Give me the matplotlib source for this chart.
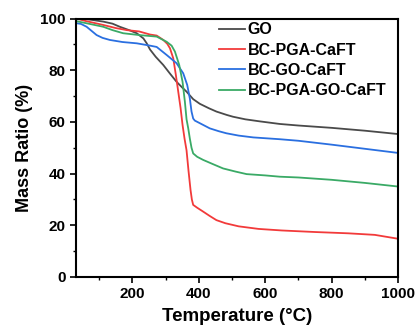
import numpy as np
import matplotlib.pyplot as plt
from matplotlib.ticker import MultipleLocator

plt.rcParams['font.family'] = ['Liberation Sans', 'DejaVu Sans']
plt.rcParams['font.weight'] = 'bold'

# temperature (C) and mass ratio (%)
go_t = [30, 60, 112, 140, 162, 190, 213, 233, 243, 253, 270, 293, 313, 333, 350, 363,
        383, 403, 430, 453, 484, 503, 540, 584, 644, 700, 800, 900, 1000]
go_m = [100, 99.8, 98.8, 98, 96.8, 95.5, 94.3, 92.3, 90.4, 88, 85.2, 82, 78.7, 75.5, 73.3, 71.7,
        68.8, 67, 65.3, 64, 62.7, 62, 61, 60.2, 59.2, 58.6, 57.7, 56.6, 55.3]

pga_t = [30, 60, 112, 150, 183, 220, 253, 273, 293, 305, 313, 323, 331, 338, 345, 351,
         357, 363, 369, 375, 379, 383, 395, 413, 433, 453, 480, 520, 580, 650, 750,
         850, 930, 1000]
pga_m = [100, 99, 97.5, 96.3, 95.5, 95, 93.8, 93.4, 91.7, 90.2, 88.5, 84.6, 78, 71.7, 65.4, 58.8,
         53.5, 49, 41, 33.7, 30, 27.9, 26.8, 25.3, 23.6, 22, 20.8, 19.6, 18.6, 18, 17.4,
         16.9, 16.3, 14.8]

gocaft_t = [30, 45, 62, 77, 92, 110, 132, 170, 213, 253, 273, 303, 333, 353, 365, 373,
            378, 383, 388, 400, 433, 460, 483, 520, 564, 644, 700, 800, 900, 1000]
gocaft_m = [98.2, 97.9, 96.8, 95.2, 93.6, 92.5, 91.7, 90.9, 90.4, 89.5, 89, 85.9, 82.7, 78.8, 74.3, 69,
            64, 61.3, 60.5, 59.7, 57.5, 56.4, 55.6, 54.7, 54, 53.3, 52.7, 51.2, 49.6, 48]

all_t = [30, 60, 112, 140, 172, 220, 273, 303, 318, 328, 341, 351, 358, 363, 368, 373,
         378, 383, 395, 413, 440, 473, 510, 544, 600, 644, 700, 800, 900, 1000]
all_m = [99, 98.2, 96.8, 95.5, 94.3, 93.6, 93, 91, 89.5, 87.2, 82, 75.5, 67.8, 61, 57.6, 53.5,
         50, 47.8, 46.5, 45.3, 43.8, 42, 40.8, 39.8, 39.3, 38.8, 38.5, 37.6, 36.4, 35]

series = [
    ('GO', go_t, go_m, '#4a4a4a'),
    ('BC-PGA-CaFT', pga_t, pga_m, '#f23a3a'),
    ('BC-GO-CaFT', gocaft_t, gocaft_m, '#2a6fe0'),
    ('BC-PGA-GO-CaFT', all_t, all_m, '#3aaa66'),
]

fig = plt.figure(figsize=(4.18, 3.35), dpi=100)
ax = fig.add_axes([76/418, 1 - 277/335, (398-76)/418, (277-18.5)/335])

for name, t, m, c in series:
    ax.plot(t, m, color=c, lw=1.3, label=name, solid_joinstyle='round')

ax.set_xlim(30, 1000)
ax.set_ylim(0, 100)
ax.xaxis.set_major_locator(MultipleLocator(200))
ax.xaxis.set_minor_locator(MultipleLocator(100))
ax.yaxis.set_major_locator(MultipleLocator(20))
ax.yaxis.set_minor_locator(MultipleLocator(10))
ax.tick_params(which='major', direction='out', length=4, width=1.2, labelsize=11)
ax.tick_params(which='minor', direction='out', length=2.5, width=1.0)
for s in ax.spines.values():
    s.set_linewidth(1.5)

ax.set_xlabel('Temperature (\u00b0C)', fontsize=13.5, fontweight='bold', labelpad=5)
ax.set_ylabel('Mass Ratio (%)', fontsize=13, fontweight='bold', labelpad=5)

leg = ax.legend(loc='upper left', frameon=False, fontsize=11.5, handlelength=1.6,
                handletextpad=0.2, labelspacing=0.33, borderaxespad=0, borderpad=0,
                bbox_to_anchor=(0.444, 0.985))

fig.savefig('out.png', dpi=100)
